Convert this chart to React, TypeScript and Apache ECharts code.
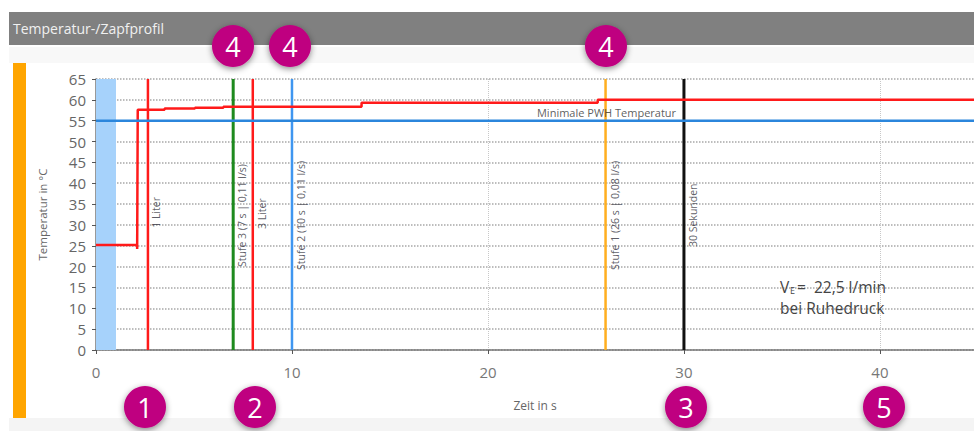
import React, { useEffect, useRef } from "react";
import * as echarts from "echarts";

const title = "Temperatur-/Zapfprofil";
const xAxisName = "Zeit in s";
const yAxisName = "Temperatur in °C";
const tempProfile = [
  [0, 25.2], [2.1, 25.2], [2.1, 24.2], [2.13, 24.2], [2.13, 57.6], [3.5, 57.6], [3.5, 57.9],
  [5.05, 57.9], [5.05, 58.1], [6.5, 58.1], [6.5, 58.35], [13.55, 58.35], [13.55, 59.3], [25.6, 59.3], [25.6, 60], [44.8, 60],
];
const minTemp = [[0, 55], [44.8, 55]];
const minTempLabel = "Minimale PWH Temperatur";
const band = [0, 1.02];
const markers = [
  { name: "1 Liter", x: 2.65, color: "#ff1a1a", width: 2.5, labelY: 29.3, dx: 8 },
  { name: "Stufe 3 (7 s | 0,11 l/s)", x: 7, color: "#1e8a1e", width: 3, labelY: 19.9, dx: 9 },
  { name: "3 Liter", x: 8, color: "#ff1a1a", width: 2.5, labelY: 29, dx: 9 },
  { name: "Stufe 2 (10 s | 0,11 l/s)", x: 10, color: "#3f96f0", width: 2.5, labelY: 19.2, dx: 9 },
  { name: "Stufe 1 (26 s | 0,08 l/s)", x: 26, color: "#ffae1f", width: 2.5, labelY: 19.2, dx: 9 },
  { name: "30 Sekunden", x: 30, color: "#111111", width: 3, labelY: 24.7, dx: 9 },
];
const badges = [
  { text: "4", x: 233, y: 46 }, { text: "4", x: 290, y: 46 }, { text: "4", x: 606, y: 46 },
  { text: "1", x: 145, y: 407 }, { text: "2", x: 255, y: 407 }, { text: "3", x: 686, y: 407 }, { text: "5", x: 884, y: 407 },
];

const font = "'Open Sans', 'Noto Sans', sans-serif";

export default function App() {
  const ref = useRef<HTMLDivElement>(null);
  useEffect(() => {
    document.body.style.margin = "0";
    const chart = echarts.init(ref.current!, undefined, { renderer: "svg" });
    chart.setOption({
      animation: false,
      backgroundColor: "#ffffff",
      textStyle: { fontFamily: font },
      grid: { left: 96, top: 79, width: 878, height: 271 },
      xAxis: {
        type: "value", min: 0, max: 44.8, interval: 10,
        name: xAxisName, nameLocation: "middle", nameGap: 49,
        nameTextStyle: { fontSize: 12, color: "#666", fontFamily: font },
        axisLine: { onZero: false, lineStyle: { color: "#777", width: 1.5 } },
        axisTick: { show: true, length: 4, lineStyle: { color: "#555" } },
        axisLabel: { fontSize: 15, color: "#777", margin: 14, fontFamily: font, showMaxLabel: false,
          formatter: (v: number) => (v % 10 === 0 ? String(v) : "") },
        splitLine: { show: true, lineStyle: { color: "#c8c8c8", type: "dotted", width: 1 } },
      },
      yAxis: {
        type: "value", min: 0, max: 65, interval: 5,
        name: yAxisName, nameLocation: "middle", nameGap: 48,
        nameTextStyle: { fontSize: 11.5, color: "#666", fontFamily: font },
        axisLine: { show: true, lineStyle: { color: "#777", width: 1.5 } },
        axisTick: { show: true, length: 4, lineStyle: { color: "#555" } },
        axisLabel: { fontSize: 15, color: "#666", margin: 10, fontFamily: font },
        splitLine: { show: true, lineStyle: { color: "#a8a8a8", type: "dotted", width: 1.5 } },
      },
      series: [
        {
          type: "line", data: [], silent: true, z: 1,
          markArea: { silent: true, itemStyle: { color: "#a6d2fb", opacity: 1 }, data: [[{ xAxis: band[0] }, { xAxis: band[1] }]] },
        },
        ...markers.map((m) => ({
          type: "line", name: m.name, data: [[m.x, 0], [m.x, 65]], symbol: "none", z: 3,
          lineStyle: { color: m.color, width: m.width },
        })),
        { type: "line", name: "PWH", data: tempProfile, symbol: "none", z: 4, lineStyle: { color: "#ff1a1a", width: 2.5 } },
        { type: "line", name: minTempLabel, data: minTemp, symbol: "none", z: 5, lineStyle: { color: "#2b86dc", width: 2.5 } },
        {
          type: "scatter", symbolSize: 0, z: 6, silent: true,
          data: markers.map((m) => ({
            value: [m.x, m.labelY],
            label: {
              show: true, formatter: m.name, rotate: 90, position: "inside", align: "left", verticalAlign: "middle",
              offset: [0, m.dx], fontSize: 10.5, color: "#33333d", fontFamily: font,
            },
          })),
        },
        {
          type: "scatter", symbolSize: 0, z: 6, silent: true,
          data: [{
            value: [29.6, 57],
            label: { show: true, formatter: minTempLabel, position: "inside", align: "right", verticalAlign: "middle",
              fontSize: 11, color: "#333", fontFamily: font },
          }],
        },
      ],
      graphic: [
        { type: "rect", z: 1, shape: { x: 9, y: 12, width: 965, height: 33 }, style: { fill: "#808080" } },
        { type: "rect", z: 1, shape: { x: 9, y: 47, width: 965, height: 16 }, style: { fill: "#f8f8f8" } },
        { type: "rect", z: 1, shape: { x: 9, y: 418, width: 965, height: 13 }, style: { fill: "#f4f4f4" } },
        { type: "rect", z: 1, shape: { x: 13, y: 63, width: 13, height: 355 }, style: { fill: "#ffa500" } },
        { type: "text", z: 2, x: 13, y: 21, style: { text: title, fill: "#f0f0f0", fontSize: 14, fontFamily: font } },
        { type: "text", z: 20, x: 780, y: 279, style: { text: "V", fill: "#444", fontSize: 15.5, fontFamily: font } },
        { type: "text", z: 20, x: 790, y: 286, style: { text: "E", fill: "#444", fontSize: 9, fontFamily: font } },
        { type: "text", z: 20, x: 797, y: 279, style: { text: "=  22,5 l/min", fill: "#444", fontSize: 15.5, fontFamily: font } },
        { type: "text", z: 20, x: 780, y: 300, style: { text: "bei Ruhedruck", fill: "#444", fontSize: 15.5, fontFamily: font } },
        ...badges.flatMap((b) => [
          { type: "circle", z: 30, x: b.x, y: b.y, shape: { cx: 0, cy: 0, r: 21 },
            style: { fill: "#bf0080", shadowBlur: 6, shadowColor: "rgba(0,0,0,0.45)", shadowOffsetY: 2 } },
          { type: "text", z: 31, x: b.x, y: b.y, style: { text: b.text, fill: "#fff", fontSize: 27, fontFamily: font, align: "center", verticalAlign: "middle" } },
        ]),
      ],
    });
    return () => chart.dispose();
  }, []);
  return <div ref={ref} style={{ position: "fixed", left: 0, top: 0, width: 974, height: 431 }} />;
}
